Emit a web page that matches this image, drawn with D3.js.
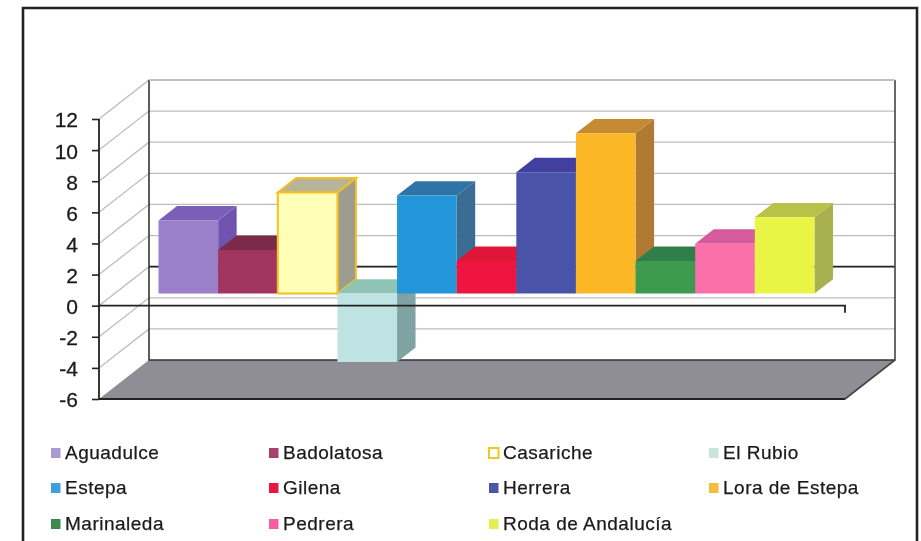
<!DOCTYPE html>
<html><head><meta charset="utf-8">
<script src="https://cdn.jsdelivr.net/npm/d3@7"></script>
<style>html,body{margin:0;padding:0;background:#fff}svg{display:block}</style>
</head><body><svg id="c" width="921" height="541"></svg>
<script>
const categories = ["Aguadulce","Badolatosa","Casariche","El Rubio","Estepa","Gilena","Herrera","Lora de Estepa","Marinaleda","Pedrera","Roda de Andalucía"];
const values = [4.7,2.8,6.5,-4.4,6.3,2.1,7.8,10.3,2.1,3.2,4.9];
const frontColors = ["#9a80c8","#a0365f","#ffffb8","#bfe3e3","#2196d8","#ee1340","#4a52a8","#fbb728","#3c9a50","#fb6fa8","#e8f545"];
const topColors = ["#7a5fb8","#7c2c4a","#b8b49a","#8fc4b4","#2f75a5","#e01238","#423f9e","#c68a30","#2f7f48","#d85a9e","#b8c24a"];
const sideColors = ["#6f52b0","#6d2440","#9c9c90","#7fa3a3","#3a6c94","#c01030","#38358a","#b07a30","#2a6e3e","#c05088","#a8b050"];
const legendColors = ["#a79bd0","#a8406a","#ffffff","#c8e4dc","#3aa0dc","#e8143f","#4c55a8","#f5bb3a","#3c8a50","#f55f9f","#e4ee50"];
const ticks = d3.range(-6,13,2);

const svg = d3.select("#c");
const defs = svg.append("defs");
defs.append("filter").attr("id","soft").append("feGaussianBlur").attr("stdDeviation",0.45);
const root = svg.append("g").attr("filter","url(#soft)");
root.append("rect").attr("width",921).attr("height",541).attr("fill","#fff");

const y = d3.scaleLinear().domain([-6,12]).range([399,119]);
const x = d3.scaleBand().domain(categories).range([98,844]).paddingInner(0).paddingOuter(0.755);
const depth = d3.scaleLinear().domain([0,1]);
const dx = depth.copy().range([0,50]);
const dy = depth.copy().range([0,-39]);
const P = (px,v,d)=>[px+dx(d), y(v)+dy(d)];
const poly = pts => "M"+pts.map(p=>p.join(",")).join("L")+"Z";
const line = pts => "M"+pts.map(p=>p.join(",")).join("L");
const xL=99,xR=845;

// frame
root.append("path").attr("d","M23,541V8H917V541").attr("fill","none").attr("stroke","#222").attr("stroke-width",2.6);

// floor
root.append("path").attr("d",poly([P(xL,-6,0),P(xL,-6,1),P(xR,-6,1),P(xR,-6,0)])).attr("fill","#8f8d96");

// grid
ticks.forEach(t=>{
  root.append("path").attr("d",line([P(xL,t,0),P(xL,t,1),P(xR,t,1)])).attr("fill","none")
    .attr("stroke",t===-6?"none":"#bdbdbd").attr("stroke-width",1.3);
});
// zero plane rear edge
root.append("path").attr("d",line([P(xL,0,1),P(xR,0,1)])).attr("stroke","#222").attr("stroke-width",1.7);
// walls
root.append("path").attr("d",line([P(xL,12,1),P(xL,-6,1),P(xR,-6,1)])).attr("fill","none").attr("stroke","#333").attr("stroke-width",1.6);
root.append("path").attr("d",line([P(xR,12,1),P(xR,-6,1),P(xR,-6,0)])).attr("fill","none").attr("stroke","#444").attr("stroke-width",1.6);
root.append("path").attr("d",line([P(xL,12,1),P(xR,12,1)])).attr("stroke","#bdbdbd").attr("stroke-width",1.3);

// bars
const d0=0.31,d1=0.68,bw=x.bandwidth();
categories.forEach((c,i)=>{
  const v=values[i], X=x(c), hi=Math.max(v,0), lo=Math.min(v,0);
  const g=root.append("g");
  const st=c==="Casariche"?"#f4c020":"none";
  const sw=c==="Casariche"?2:0;
  g.append("path").attr("d",poly([P(X+bw,hi,d0),P(X+bw,hi,d1),P(X+bw,lo,d1),P(X+bw,lo,d0)])).attr("fill",sideColors[i]).attr("stroke",st).attr("stroke-width",sw);
  g.append("path").attr("d",poly([P(X,hi,d0),P(X,hi,d1),P(X+bw,hi,d1),P(X+bw,hi,d0)])).attr("fill",topColors[i]).attr("stroke",st).attr("stroke-width",sw);
  g.append("path").attr("d",poly([P(X,hi,d0),P(X+bw,hi,d0),P(X+bw,lo,d0),P(X,lo,d0)])).attr("fill",frontColors[i]).attr("stroke",st).attr("stroke-width",sw);
});

// front plane line, on top of the bars
root.append("path").attr("d",line([P(xL,0,0),P(xR,0,0),[xR,y(0)+7]])).attr("fill","none").attr("stroke","#222").attr("stroke-width",1.8);

// front axis
root.append("path").attr("d",line([[xL,y(12)],[xL,y(-6)],[xR,y(-6)]])).attr("fill","none").attr("stroke","#222").attr("stroke-width",1.8);
const axis=d3.axisLeft(y).tickValues(ticks).tickSize(7).tickPadding(14).tickFormat(d=>String(d));
const ga=root.append("g").attr("transform",`translate(${xL},0)`).call(axis);
ga.select(".domain").remove();
ga.selectAll("line").attr("stroke","#222").attr("stroke-width",1.6);
ga.selectAll("text").attr("font-family","Liberation Sans").attr("font-size",21).attr("fill","#1a1a1a").attr("stroke","#1a1a1a").attr("stroke-width",0.3).attr("dy","0.38em");

// legend
const cols=[51,269,489,709], rows=[453,488,524];
categories.forEach((c,i)=>{
  const lx=cols[i%4], ly=rows[Math.floor(i/4)];
  root.append("rect").attr("x",lx).attr("y",ly-5).attr("width",9.5).attr("height",10)
    .attr("fill",legendColors[i]).attr("stroke",c==="Casariche"?"#f0c820":"none").attr("stroke-width",2);
  root.append("text").attr("x",lx+14).attr("y",ly+6).attr("font-family","Liberation Sans").attr("font-size",19).attr("letter-spacing",0.5).attr("fill","#1a1a1a").attr("stroke","#1a1a1a").attr("stroke-width",0.25).text(c);
});
</script></body></html>
